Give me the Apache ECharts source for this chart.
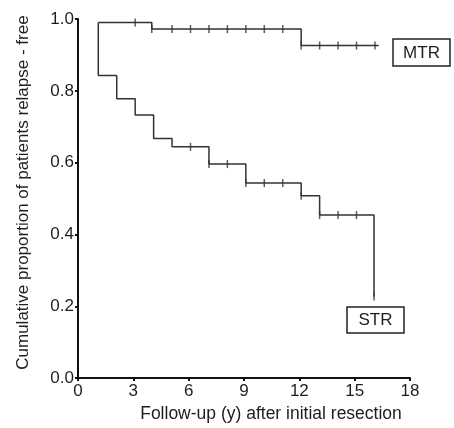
<!DOCTYPE html>
<html>
<head>
<meta charset="utf-8">
<script src="https://cdn.jsdelivr.net/npm/echarts@6/dist/echarts.min.js"></script>
<style>
  html, body { margin: 0; padding: 0; background: #fff; }
  #main { width: 454px; height: 428px; }
</style>
</head>
<body>
<div id="main"></div>
<script>
// STR curve (step points) and censor marks
const strStepTimes = [1.1, 1.1, 2.1, 3.1, 4.1, 5.1, 7.1, 9.1, 12.1, 13.1, 16.05];
const strLevels = [0.99, 0.843, 0.778, 0.733, 0.667, 0.644, 0.596, 0.543, 0.508, 0.454, 0.227];
const strCensorTimes = [6.1, 7.1, 8.1, 9.1, 10.1, 11.1, 12.1, 13.1, 14.1, 15.1, 16.05];
const strCensorLevels = [0.644, 0.596, 0.596, 0.543, 0.543, 0.543, 0.508, 0.454, 0.454, 0.454, 0.227];

// MTR curve
const mtrStepTimes = [1.1, 4.0, 12.1, 16.3];
const mtrLevels = [0.99, 0.972, 0.926, 0.926];
const mtrCensorTimes = [3.1, 4.0, 5.1, 6.1, 7.1, 8.1, 9.1, 10.1, 11.1, 12.1, 13.1, 14.1, 15.1, 16.1];
const mtrCensorLevels = [0.99, 0.972, 0.972, 0.972, 0.972, 0.972, 0.972, 0.972, 0.972, 0.926, 0.926, 0.926, 0.926, 0.926];

const groupNames = ["MTR", "STR"];
const xLabel = "Follow-up (y) after initial resection";
const yLabel = "Cumulative proportion of patients relapse - free";

function pairs(xs, ys) {
  return xs.map((x, i) => [x, ys[i]]);
}

const font = "Liberation Sans";
const lineCol = "#333";
const txtCol = "#1e1e1e";

let chart = echarts.init(document.getElementById("main"), null, { renderer: "canvas" });

let option = {
  backgroundColor: "#fff",
  animation: false,
  grid: { left: 78, right: 44, top: 19, bottom: 48 },
  xAxis: {
    type: "value",
    min: 0,
    max: 18,
    interval: 3,
    name: xLabel,
    nameLocation: "middle",
    nameGap: 25,
    nameTextStyle: { fontFamily: font, fontSize: 17.5, color: txtCol, padding: [0, 0, 0, 54] },
    axisLine: { lineStyle: { color: "#111", width: 2 } },
    axisTick: { length: 3, lineStyle: { color: "#111", width: 2 } },
    axisLabel: { fontFamily: font, fontSize: 17, color: txtCol, margin: 5 },
    splitLine: { show: false }
  },
  yAxis: {
    type: "value",
    min: 0,
    max: 1,
    interval: 0.2,
    name: yLabel,
    nameLocation: "middle",
    nameGap: 46,
    nameTextStyle: { fontFamily: font, fontSize: 17, color: txtCol, padding: [0, 0, 0, 12] },
    axisLine: { show: true, lineStyle: { color: "#111", width: 2 } },
    axisTick: { show: true, length: 3, lineStyle: { color: "#111", width: 2 } },
    axisLabel: {
      fontFamily: font, fontSize: 17, color: txtCol, margin: 4,
      formatter: (v) => v.toFixed(1)
    },
    splitLine: { show: false }
  },
  series: [
    {
      name: "STR",
      type: "line",
      step: "end",
      data: pairs(strStepTimes, strLevels),
      showSymbol: false,
      lineStyle: { color: lineCol, width: 1.5 }
    },
    {
      name: "MTR",
      type: "line",
      step: "end",
      data: pairs(mtrStepTimes, mtrLevels),
      showSymbol: false,
      lineStyle: { color: lineCol, width: 1.5 }
    },
    {
      name: "STR censored",
      type: "scatter",
      data: pairs(strCensorTimes, strCensorLevels),
      symbol: "rect",
      symbolSize: [1.5, 8],
      itemStyle: { color: lineCol }
    },
    {
      name: "MTR censored",
      type: "scatter",
      data: pairs(mtrCensorTimes, mtrCensorLevels),
      symbol: "rect",
      symbolSize: [1.5, 8],
      itemStyle: { color: lineCol }
    }
  ],
  graphic: [
    {
      type: "rect",
      shape: { x: 393, y: 39, width: 57, height: 27 },
      style: { fill: "#fff", stroke: "#222", lineWidth: 1.5 }
    },
    {
      type: "text",
      x: 421.5, y: 53,
      style: { text: groupNames[0], font: "17px " + font, fill: txtCol, align: "center", verticalAlign: "middle" }
    },
    {
      type: "rect",
      shape: { x: 347, y: 307, width: 57, height: 26 },
      style: { fill: "#fff", stroke: "#222", lineWidth: 1.5 }
    },
    {
      type: "text",
      x: 375.5, y: 320.5,
      style: { text: groupNames[1], font: "17px " + font, fill: txtCol, align: "center", verticalAlign: "middle" }
    }
  ]
};

chart.setOption(option);
</script>
</body>
</html>
